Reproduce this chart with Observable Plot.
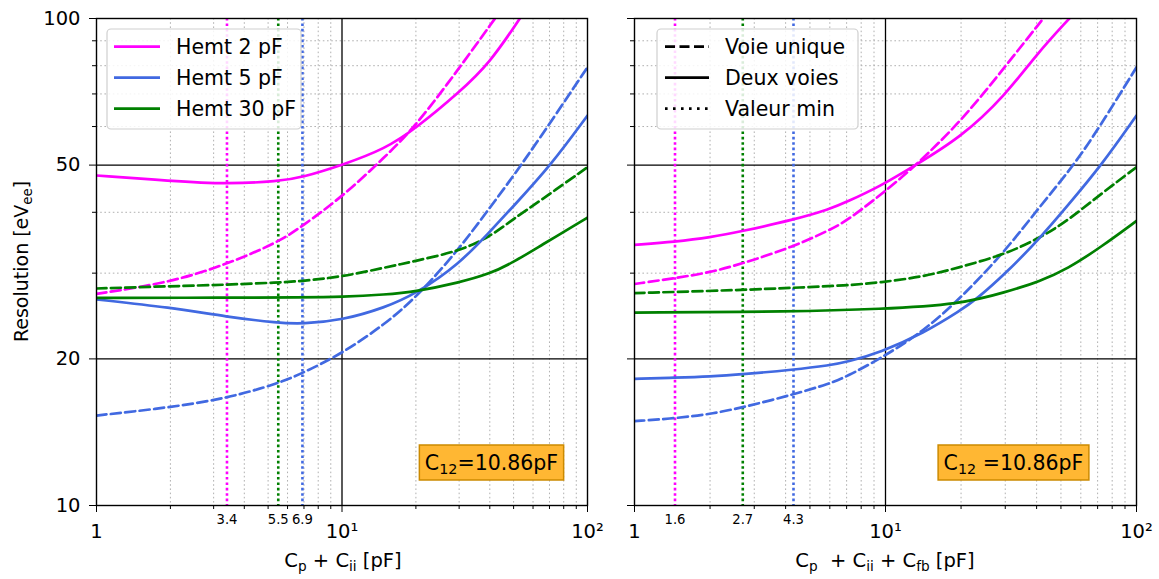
<!DOCTYPE html>
<html><head><meta charset="utf-8">
<script src="https://cdn.jsdelivr.net/npm/d3@7"></script>
<script src="https://cdn.jsdelivr.net/npm/@observablehq/plot@0.6"></script>
<style>
body{margin:0;background:#fff;font-family:"DejaVu Sans",sans-serif;}
#wrap{position:relative;width:1159px;height:579px;overflow:hidden;}
#left,#right{position:absolute;top:0;}
#left{left:0}
#right{left:600px}
</style></head><body><div id="wrap"><div id="left"></div><div id="right"></div></div>
<script>
// ---------- data ----------
const series = ["Hemt 2 pF", "Hemt 5 pF", "Hemt 30 pF"];
const seriesColors = ["#ff00ff", "#4169e1", "#008000"];
const styleNames = ["Voie unique", "Deux voies", "Valeur min"];

// Left panel : C_p + C_ii
const left_hemt2_deux_x = [1, 2, 3.4, 5.5, 6.9, 10, 15, 20, 30, 40, 53];
const left_hemt2_deux_y = [47.6, 46.4, 45.7, 46.3, 47.2, 50, 54, 59.5, 70.5, 81, 100];
const left_hemt2_unique_x = [1, 2, 3.4, 5.5, 6.9, 10, 15, 20, 30, 42];
const left_hemt2_unique_y = [27.2, 28.7, 31.3, 34.7, 37.5, 43, 52, 60.2, 79, 100];
const left_hemt5_deux_x = [1, 2, 3.4, 5.5, 6.9, 10, 15, 20, 30, 40, 50, 71, 100];
const left_hemt5_deux_y = [26.5, 25.5, 24.4, 23.7, 23.6, 24.0, 25.5, 27.2, 31.3, 36.5, 41.2, 50, 63.2];
const left_hemt5_unique_x = [1, 2, 3.4, 5.5, 6.9, 10, 15, 20, 30, 40, 54, 100];
const left_hemt5_unique_y = [15.3, 15.9, 16.6, 17.8, 18.7, 20.5, 23.6, 26.7, 33.6, 40.9, 50, 79.4];
const left_hemt30_deux_x = [1, 3.4, 6.9, 10, 15, 20, 30, 40, 50, 64, 100];
const left_hemt30_deux_y = [26.7, 26.7, 26.75, 26.8, 27.1, 27.5, 28.7, 29.9, 31.6, 34.1, 39];
const left_hemt30_unique_x = [1, 2, 3.4, 5.5, 6.9, 10, 15, 20, 30, 40, 50, 64, 100];
const left_hemt30_unique_y = [27.9, 28.2, 28.4, 28.7, 28.9, 29.5, 30.8, 31.8, 33.3, 35.6, 38.8, 42.2, 49.5];
const left_min_x = [3.4, 5.5, 6.9];
const left_min_series = ["Hemt 2 pF", "Hemt 30 pF", "Hemt 5 pF"];
const left_min_labels = ["3.4", "5.5", "6.9"];

// Right panel : C_p + C_ii + C_fb
const right_hemt2_deux_x = [1, 1.45, 2, 2.7, 4.3, 6, 7, 9.5, 13, 20, 30, 40, 54];
const right_hemt2_deux_y = [34.3, 34.8, 35.5, 36.6, 38.6, 40.6, 42.0, 45.2, 49.8, 57, 69.5, 84.5, 100];
const right_hemt2_unique_x = [1, 1.45, 2, 2.7, 4.3, 6, 7, 9.5, 13, 20, 29.6, 42.5];
const right_hemt2_unique_y = [28.5, 29.3, 30.1, 31.4, 34.0, 36.8, 38.4, 43.3, 49.5, 61.5, 79, 100];
const right_hemt5_deux_x = [1, 1.45, 2, 2.7, 4.3, 6, 7, 9.5, 14.2, 20, 23, 30, 41.5, 53, 72.6, 100];
const right_hemt5_deux_y = [18.2, 18.3, 18.4, 18.6, 19.0, 19.4, 19.7, 20.6, 22.6, 25.2, 26.5, 29.9, 35.5, 41.2, 50, 63.2];
const right_hemt5_unique_x = [1, 1.45, 2, 2.7, 4.3, 6, 7, 9.5, 14.2, 20, 30, 41.5, 56.3, 70, 100];
const right_hemt5_unique_y = [14.9, 15.1, 15.4, 15.9, 16.9, 17.8, 18.4, 20.0, 22.8, 26.7, 33.3, 41.3, 50, 59, 79.4];
const right_hemt30_deux_x = [1, 4.3, 9.5, 20, 30, 41.5, 53, 72, 100];
const right_hemt30_deux_y = [24.9, 25.0, 25.3, 25.9, 27.4, 28.9, 30.6, 33.9, 38.4];
const right_hemt30_unique_x = [1, 2.7, 4.3, 7, 9.5, 14.2, 20, 30, 41.5, 53, 72, 100];
const right_hemt30_unique_y = [27.3, 27.7, 28.0, 28.3, 28.7, 29.5, 30.9, 32.8, 35.5, 38.4, 43.6, 49.5];
const right_min_x = [1.45, 2.7, 4.3];
const right_min_series = ["Hemt 2 pF", "Hemt 30 pF", "Hemt 5 pF"];
const right_min_labels = ["1.6", "2.7", "4.3"];

// Axes ticks
const yMajorTicks = [10, 20, 50, 100];
const yMinorTicks = [30, 40, 60, 70, 80, 90];
const xMajorTicks = [1, 10, 100];
const xMajorLabels = ["1", "10¹", "10²"];
const xMinorTicks = [2, 3, 4, 5, 6, 7, 8, 9, 20, 30, 40, 50, 60, 70, 80, 90];
const annotation = {value: "10.86pF"};

// ---------- helpers ----------
function rows(xs, ys, s, kind) {
  const c = seriesColors[series.indexOf(s)];
  return xs.map((x, i) => ({x, y: ys[i], series: s, kind, color: c}));
}
function minRows(xs, ss, labels) {
  return xs.map((x, i) => ({x, label: labels[i], color: seriesColors[series.indexOf(ss[i])]}));
}
const FONT = "DejaVu Sans";

function panel({data, mins, width, marginLeft, marginRight, yLabels}) {
  const solid = data.filter(d => d.kind === "deux");
  const dashed = data.filter(d => d.kind === "unique");
  return Plot.plot({
    width, height: 579,
    marginLeft, marginRight, marginTop: 18, marginBottom: 74,
    x: {type: "log", domain: [1, 100]},
    y: {type: "log", domain: [10, 100]},
    color: {type: "identity"},
    style: {fontFamily: FONT, background: "transparent", overflow: "visible"},
    marks: [
      Plot.ruleX(xMinorTicks, {stroke: "#b0b0b0", strokeWidth: 1, strokeDasharray: "1.6,2.6"}),
      Plot.ruleY(yMinorTicks, {stroke: "#b0b0b0", strokeWidth: 1, strokeDasharray: "1.6,2.6"}),
      Plot.ruleX([10], {stroke: "black", strokeWidth: 1.3}),
      Plot.ruleY([20, 50], {stroke: "black", strokeWidth: 1.3}),
      Plot.ruleX(mins, {x: "x", stroke: "color", strokeWidth: 2.6, strokeDasharray: "2.6,2.8"}),
      Plot.line(dashed, {x: "x", y: "y", z: "series", stroke: "color", strokeWidth: 2.7,
        strokeDasharray: "10,4.5", curve: "basis", clip: true}),
      Plot.line(solid, {x: "x", y: "y", z: "series", stroke: "color", strokeWidth: 2.7,
        curve: "basis", clip: true}),
      Plot.frame({stroke: "black", strokeWidth: 1.4}),
      Plot.axisY(yMajorTicks, {label: null, tickSize: 7, tickPadding: 9, fontSize: 19.5,
        tickFormat: d => yLabels ? String(d) : ""}),
      Plot.axisY(yMinorTicks, {label: null, tickSize: 4, tickFormat: () => ""}),
      Plot.axisX(xMajorTicks, {label: null, tickSize: 7, tickPadding: 12, fontSize: 19.5,
        tickFormat: d => xMajorLabels[xMajorTicks.indexOf(d)]}),
      Plot.axisX(xMinorTicks, {label: null, tickSize: 4, tickFormat: () => ""}),
      Plot.text(mins, {x: "x", text: "label", frameAnchor: "bottom", lineAnchor: "top",
        dy: 9, fontSize: 13.2, fill: "black"})
    ]
  });
}

// rich text with subscripts: parts = [[text, isSub], ...]
function rich(sel, parts, size) {
  let shifted = false;
  parts.forEach(([t, sub]) => {
    const ts = sel.append("tspan").text(t);
    if (sub && !shifted) { ts.attr("font-size", size * 0.7).attr("dy", size * 0.22); shifted = true; }
    else if (sub) { ts.attr("font-size", size * 0.7); }
    else if (!sub && shifted) { ts.attr("dy", -size * 0.22); shifted = false; }
  });
}

function legend(svg, x0, y0, w, h, entries, lineX0, lineX1, textX) {
  const g = svg.append("g");
  g.append("rect").attr("x", x0).attr("y", y0).attr("width", w).attr("height", h)
    .attr("rx", 4).attr("fill", "white").attr("fill-opacity", 0.85)
    .attr("stroke", "#cfcfcf").attr("stroke-width", 1.2);
  const rowY = [46.7, 77.7, 108.7];
  entries.forEach((e, i) => {
    g.append("line").attr("x1", lineX0).attr("x2", lineX1).attr("y1", rowY[i]).attr("y2", rowY[i])
      .attr("stroke", e.color).attr("stroke-width", e.width || 2.7)
      .attr("stroke-dasharray", e.dash || null);
    g.append("text").attr("x", textX).attr("y", rowY[i]).attr("dy", "0.36em")
      .attr("text-anchor", "start")
      .attr("font-family", FONT).attr("font-size", 20.5).attr("fill", "black").text(e.label);
  });
}

function annot(svg, cx, cy, parts) {
  const g = svg.append("g");
  const rect = g.append("rect");
  const t = g.append("text").attr("x", cx).attr("y", cy).attr("dy", "0.36em")
    .attr("text-anchor", "middle").attr("font-family", FONT).attr("font-size", 20.5).attr("fill", "black");
  rich(t, parts, 20.5);
  const bb = t.node().getBBox();
  const pad = 5.5;
  rect.attr("x", bb.x - pad).attr("y", cy - 17.5).attr("width", bb.width + 2 * pad).attr("height", 35)
    .attr("fill", "#ffb733").attr("stroke", "#cc8a00").attr("stroke-width", 1.5);
}

// ---------- panels ----------
const leftData = [
  ...rows(left_hemt2_deux_x, left_hemt2_deux_y, "Hemt 2 pF", "deux"),
  ...rows(left_hemt2_unique_x, left_hemt2_unique_y, "Hemt 2 pF", "unique"),
  ...rows(left_hemt5_deux_x, left_hemt5_deux_y, "Hemt 5 pF", "deux"),
  ...rows(left_hemt5_unique_x, left_hemt5_unique_y, "Hemt 5 pF", "unique"),
  ...rows(left_hemt30_deux_x, left_hemt30_deux_y, "Hemt 30 pF", "deux"),
  ...rows(left_hemt30_unique_x, left_hemt30_unique_y, "Hemt 30 pF", "unique")
];
const rightData = [
  ...rows(right_hemt2_deux_x, right_hemt2_deux_y, "Hemt 2 pF", "deux"),
  ...rows(right_hemt2_unique_x, right_hemt2_unique_y, "Hemt 2 pF", "unique"),
  ...rows(right_hemt5_deux_x, right_hemt5_deux_y, "Hemt 5 pF", "deux"),
  ...rows(right_hemt5_unique_x, right_hemt5_unique_y, "Hemt 5 pF", "unique"),
  ...rows(right_hemt30_deux_x, right_hemt30_deux_y, "Hemt 30 pF", "deux"),
  ...rows(right_hemt30_unique_x, right_hemt30_unique_y, "Hemt 30 pF", "unique")
];

const leftSvg = panel({data: leftData, mins: minRows(left_min_x, left_min_series, left_min_labels),
  width: 600, marginLeft: 96, marginRight: 13, yLabels: true});
document.getElementById("left").appendChild(leftSvg);
const rightSvg = panel({data: rightData, mins: minRows(right_min_x, right_min_series, right_min_labels),
  width: 559, marginLeft: 34, marginRight: 23, yLabels: false});
document.getElementById("right").appendChild(rightSvg);

const L = d3.select(leftSvg), R = d3.select(rightSvg);

// y title
const yt = L.append("text").attr("transform", "translate(28,261.5) rotate(-90)")
  .attr("text-anchor", "middle").attr("font-family", FONT).attr("font-size", 19).attr("fill", "black");
rich(yt, [["Resolution [eV"], ["ee", true], ["]"]], 19);

// x titles
const xt1 = L.append("text").attr("x", 343).attr("y", 567).attr("text-anchor", "middle")
  .attr("font-family", FONT).attr("font-size", 19.5).attr("fill", "black");
rich(xt1, [["C"], ["p", true], [" + C"], ["ii", true], [" [pF]"]], 19.5);
const xt2 = R.append("text").attr("x", 285).attr("y", 567).attr("text-anchor", "middle")
  .attr("font-family", FONT).attr("font-size", 19.5).attr("fill", "black");
rich(xt2, [["C"], ["p", true], ["  + C"], ["ii", true], [" + C"], ["fb", true], [" [pF]"]], 19.5);

// legends
legend(L, 107, 29, 194, 100, series.map((s, i) => ({label: s, color: seriesColors[i]})), 114, 160, 176);
legend(R, 57, 29, 201, 100, [
  {label: styleNames[0], color: "black", dash: "10,4.5"},
  {label: styleNames[1], color: "black"},
  {label: styleNames[2], color: "black", dash: "2.6,5.4"}
], 65, 109, 125);

// annotations
annot(L, 491.5, 462.5, [["C"], ["12", true], ["=" + annotation.value]]);
annot(R, 413.5, 462.5, [["C"], ["12", true], [" =" + annotation.value]]);
</script></body></html>
